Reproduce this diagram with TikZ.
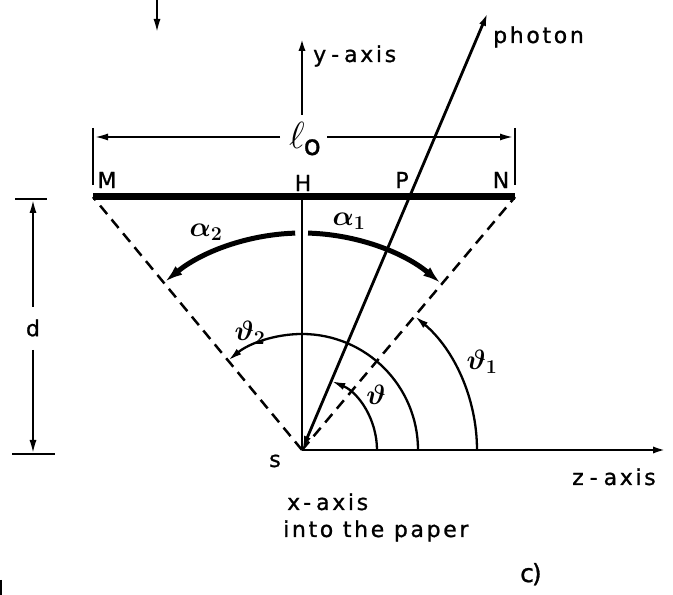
\RequirePackage{fix-cm}
\documentclass[tikz,border=0pt]{standalone}
\usepackage{amsmath,bm}
\usepackage{fontspec}
\setmainfont[LetterSpace=12,FakeBold=1]{DejaVu Sans}
\usetikzlibrary{arrows.meta}
\tikzset{
  txt/.style={font=\fontsize{22}{26}\selectfont, inner sep=0pt},
  mth/.style={font=\fontsize{28}{32}\selectfont, inner sep=0pt},
  thinln/.style={line width=2.3pt},
  axisln/.style={line width=2.8pt},
  dsh/.style={line width=2.5pt, dash pattern=on 11pt off 7pt},
  thickarc/.style={line width=5pt, -{Latex[length=18pt,width=11pt]}},
  >={Latex[length=14pt,width=7pt]}
}
\begin{document}
\begin{tikzpicture}[x=1pt,y=1pt]
\useasboundingbox (0,0) rectangle (673,595);
\coordinate (S) at (302,145);
\coordinate (M) at (93,398);
\coordinate (N) at (515,398);
\coordinate (H) at (302,398);
\coordinate (Ph) at (488,583);
\coordinate (Ytop) at (302,558);
\coordinate (Ybot) at (302,480);
\coordinate (Zend) at (667,145);
% bar
\draw[line width=7pt] (M) -- (N);
% dashed
\draw[dsh] (S) -- (M);
\draw[dsh] (S) -- (N);
% axes
\draw[axisln,->] (S) -- (Zend);
\draw[axisln] (S) -- (H);
\draw[axisln,->] (Ybot) -- (Ytop);
\draw[axisln,<->] (S) -- (Ph);
% arcs
\draw[thinln,->] ([shift={(0:75)}]S) arc[start angle=0,end angle=67,radius=75];
\draw[thinln,->] ([shift={(0:116)}]S) arc[start angle=0,end angle=129.6,radius=116];
\draw[thinln,->] ([shift={(0:175)}]S) arc[start angle=0,end angle=49.9,radius=175];
\draw[thickarc] ([shift={(88.4:217)}]S) arc[start angle=88.4,end angle=50.3,radius=217];
\draw[thickarc] ([shift={(91.8:217)}]S) arc[start angle=91.8,end angle=129.2,radius=217];
% l0 dimension
\node[inner sep=0pt,font=\fontsize{28}{32}\selectfont] (l0) at (305,456) {\scalebox{1.35}{$\ell$}\kern-1pt\raisebox{-6pt}{$\mathrm{o}$}};
\coordinate (La) at (280,458);
\coordinate (Lb) at (327,458);
\coordinate (Ll) at (94,458);
\coordinate (Lr) at (514,458);
\coordinate (T1a) at (93,467); \coordinate (T1b) at (93,410);
\coordinate (T2a) at (515,467); \coordinate (T2b) at (515,410);
\draw[thinln] (T1a) -- (T1b);
\draw[thinln] (T2a) -- (T2b);
\draw[thinln,->] (La) -- (Ll);
\draw[thinln,->] (Lb) -- (Lr);
% d dimension
\coordinate (Dt) at (33,396); \coordinate (Db) at (33,141);
\coordinate (Dm1) at (33,288); \coordinate (Dm2) at (33,245);
\coordinate (Dta) at (15,396); \coordinate (Dtb) at (47,396);
\coordinate (Dba) at (12,141); \coordinate (Dbb) at (55,141);
\draw[thinln] (Dta) -- (Dtb);
\draw[thinln] (Dba) -- (Dbb);
\draw[thinln,->] (Dm1) -- (Dt);
\draw[thinln,->] (Dm2) -- (Db);
\node[txt] (d) at (33,267) {d};
% top-left arrow and edge mark
\coordinate (A1) at (157,595); \coordinate (A2) at (157,562);
\draw[thinln,->] (A1) -- (A2);
\coordinate (E1) at (1,15); \coordinate (E2) at (1,0);
\draw[line width=2pt] (E1) -- (E2);
% labels
\node[txt] (lM) at (107,415) {M};
\node[txt] (lH) at (303,412) {H};
\node[txt] (lP) at (402,415) {P};
\node[txt] (lN) at (501,415) {N};
\node[txt,anchor=base west] (lph) at (493,552) {photon};
\node[txt,anchor=base west] (ly) at (313,533) {y\kern5pt-\kern5pt axis};
\node[txt,anchor=base west] (lz) at (572,110) {z\kern6pt-\kern6pt axis};
\node[txt,anchor=base west] (lx) at (287,85) {x\kern3pt-\kern5pt axis};
\node[txt,anchor=base west] (lpaper) at (283,58) {into the paper};
\node[txt,anchor=base west,font=\fontsize{25}{28}\selectfont] (lc) at (520,13) {c\kern-2pt)};
\node[txt,anchor=base] (ls) at (275,128) {s};
\node[mth] (th) at (376,200) {$\bm{\vartheta}$};
\node[mth] (th1) at (482,233) {$\bm{\vartheta}_{\bm 1}$};
\node[mth] (th2) at (250,262) {$\bm{\vartheta}_{\bm 2}$};
\node[mth] (al2) at (206,363) {$\bm{\alpha}_{\bm 2}$};
\node[mth] (al1) at (349,374) {$\bm{\alpha}_{\bm 1}$};
\end{tikzpicture}
\end{document}
